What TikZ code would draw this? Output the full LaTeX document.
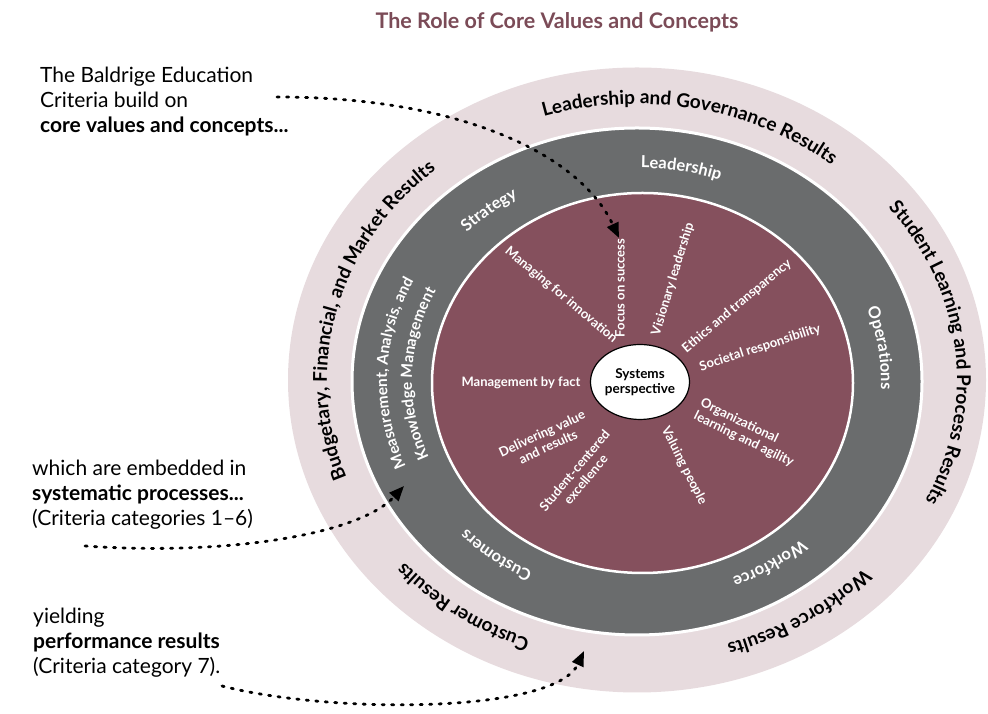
\documentclass[tikz,border=0pt]{standalone}
\usepackage{fontspec}
\setmainfont{Lato}
\usetikzlibrary{decorations.text,arrows.meta,calc,shapes.geometric}

\definecolor{resultsring}{HTML}{E7DBDE}
\definecolor{processring}{HTML}{6A6C6D}
\definecolor{valuescore}{HTML}{85505D}
\definecolor{titlecolor}{HTML}{7B4B57}

% text set along an elliptic arc, running clockwise:
% centre x, centre y, x radius, y radius, start angle, end angle, format, text
\newcommand\arclabel[8]{%
  \path[decorate,decoration={text along path,text align=center,text={|#7|#8}}]
    ($(#1pt,#2pt)+(#5:#3pt and #4pt)$)
    arc[start angle=#5,end angle=#6,x radius=#3pt,y radius=#4pt];}

\newcommand\resultsfont{\bfseries\fontsize{19}{19}\selectfont}
\newcommand\processfont{\color{white}\bfseries\fontsize{16.5}{16.5}\selectfont}
\newcommand\processsmall{\color{white}\bfseries\fontsize{15.5}{15.5}\selectfont}

\begin{document}
\begin{tikzpicture}[x=1pt,y=1pt,
  corelabel/.style={text=white,font=\bfseries\fontsize{13}{14.5}\selectfont,
    inner sep=0pt,align=center},
  intro/.style={anchor=north west,align=left,inner sep=0pt,
    font=\fontsize{21}{25}\selectfont},
  pointer/.style={line width=2.8pt,dash pattern=on 2.2pt off 7.3pt,line cap=round,
    -{Triangle[length=15pt,width=12pt]}}]
\useasboundingbox (0,0) rectangle (988,714);

% heading
\node[font=\bfseries\fontsize{21.5}{25}\selectfont,text=titlecolor] (title)
  at (557,692) {The Role of Core Values and Concepts};

% the three rings
\fill[resultsring] (637,334) ellipse[x radius=349pt,y radius=312.5pt];
\filldraw[fill=processring,draw=white,line width=3pt]
  (637,332.5) ellipse[x radius=285pt,y radius=253.5pt];
\filldraw[fill=valuescore,draw=white,line width=2.5pt]
  (642.5,331) ellipse[x radius=210.5pt,y radius=190pt];

% hub
\node[ellipse,draw=black,line width=1.2pt,fill=white,minimum width=84pt,
  minimum height=75pt,inner sep=0pt,align=center,
  font=\bfseries\fontsize{13.5}{15}\selectfont] (sys) at (640,332)
  {Systems\\perspective};

% core values and concepts
\node[corelabel,rotate=90]  (focus)    at (620,426) {Focus on success};
\node[corelabel,rotate=73]  (vision)   at (673,435) {Visionary leadership};
\node[corelabel,rotate=-40] (innov)    at (561,419) {Managing for innovation};
\node[corelabel,rotate=40]  (ethics)   at (737,408) {Ethics and transparency};
\node[corelabel,rotate=18]  (society)  at (760,366) {Societal responsibility};
\node[corelabel]            (fact)     at (521,331) {Management by fact};
\node[corelabel,rotate=-26,align=left] (learning) at (747,281)
  {Organizational\\learning and agility};
\node[corelabel,rotate=-63] (people)   at (684,248) {Valuing people};
\node[corelabel,rotate=50]  (student)  at (580,239) {Student-centered\\excellence};
\node[corelabel,rotate=25]  (value)    at (545,274) {Delivering value\\and results};

% process categories
\arclabel{640}{333}{241}{213}{110}{50}{\processfont}{Leadership}
\arclabel{640}{333}{241}{213}{159}{99}{\processfont}{Strategy}
\arclabel{640}{333}{241}{213}{38.5}{-21.5}{\processfont}{Operations}
\arclabel{640}{333}{241}{213}{-27}{-87}{\processfont}{Workforce}
\arclabel{640}{333}{241}{213}{263}{203}{\processfont}{Customers}
\arclabel{640}{333}{253}{224}{230}{126}{\processsmall}{Measurement{,} Analysis{,} and}
\arclabel{640}{333}{228}{201.5}{230}{126}{\processsmall}{Knowledge Management}

% results categories
\arclabel{637}{334}{310}{276}{124}{34}{\resultsfont}{Leadership and Governance Results}
\arclabel{639}{334}{318}{278}{58}{-46}{\resultsfont}{Student Learning and Process Results}
\arclabel{637}{334}{310}{276}{-17}{-97}{\resultsfont}{Workforce Results}
\arclabel{637}{334}{310}{276}{274.5}{194.5}{\resultsfont}{Customer Results}
\arclabel{637}{334}{310}{276}{220}{112}{\resultsfont}{Budgetary{,} Financial{,} and Market Results}

% explanations on the left
\node[intro] (buildon) at (40,647)
  {The Baldrige Education\\Criteria build on\\\textbf{core values and concepts...}};
\node[intro] (embedded) at (32,254)
  {which are embedded in\\\textbf{systematic processes...}\\(Criteria categories 1–6)};
\node[intro] (yielding) at (33,106)
  {yielding\\\textbf{performance results}\\(Criteria category 7).};

% dotted pointers
\coordinate (p1a) at (277,617);
\coordinate (p1b) at (619,476);
\coordinate (p2a) at (85,168);
\coordinate (p2b) at (404,228);
\coordinate (p3a) at (222,28);
\coordinate (p3b) at (584,63);
\draw[pointer] (p1a) .. controls (460,617) and (580,560) .. (p1b);
\draw[pointer] (p2a) .. controls (230,158) and (360,180) .. (p2b);
\draw[pointer] (p3a) .. controls (330,0) and (555,0) .. (p3b);
\end{tikzpicture}
\end{document}
